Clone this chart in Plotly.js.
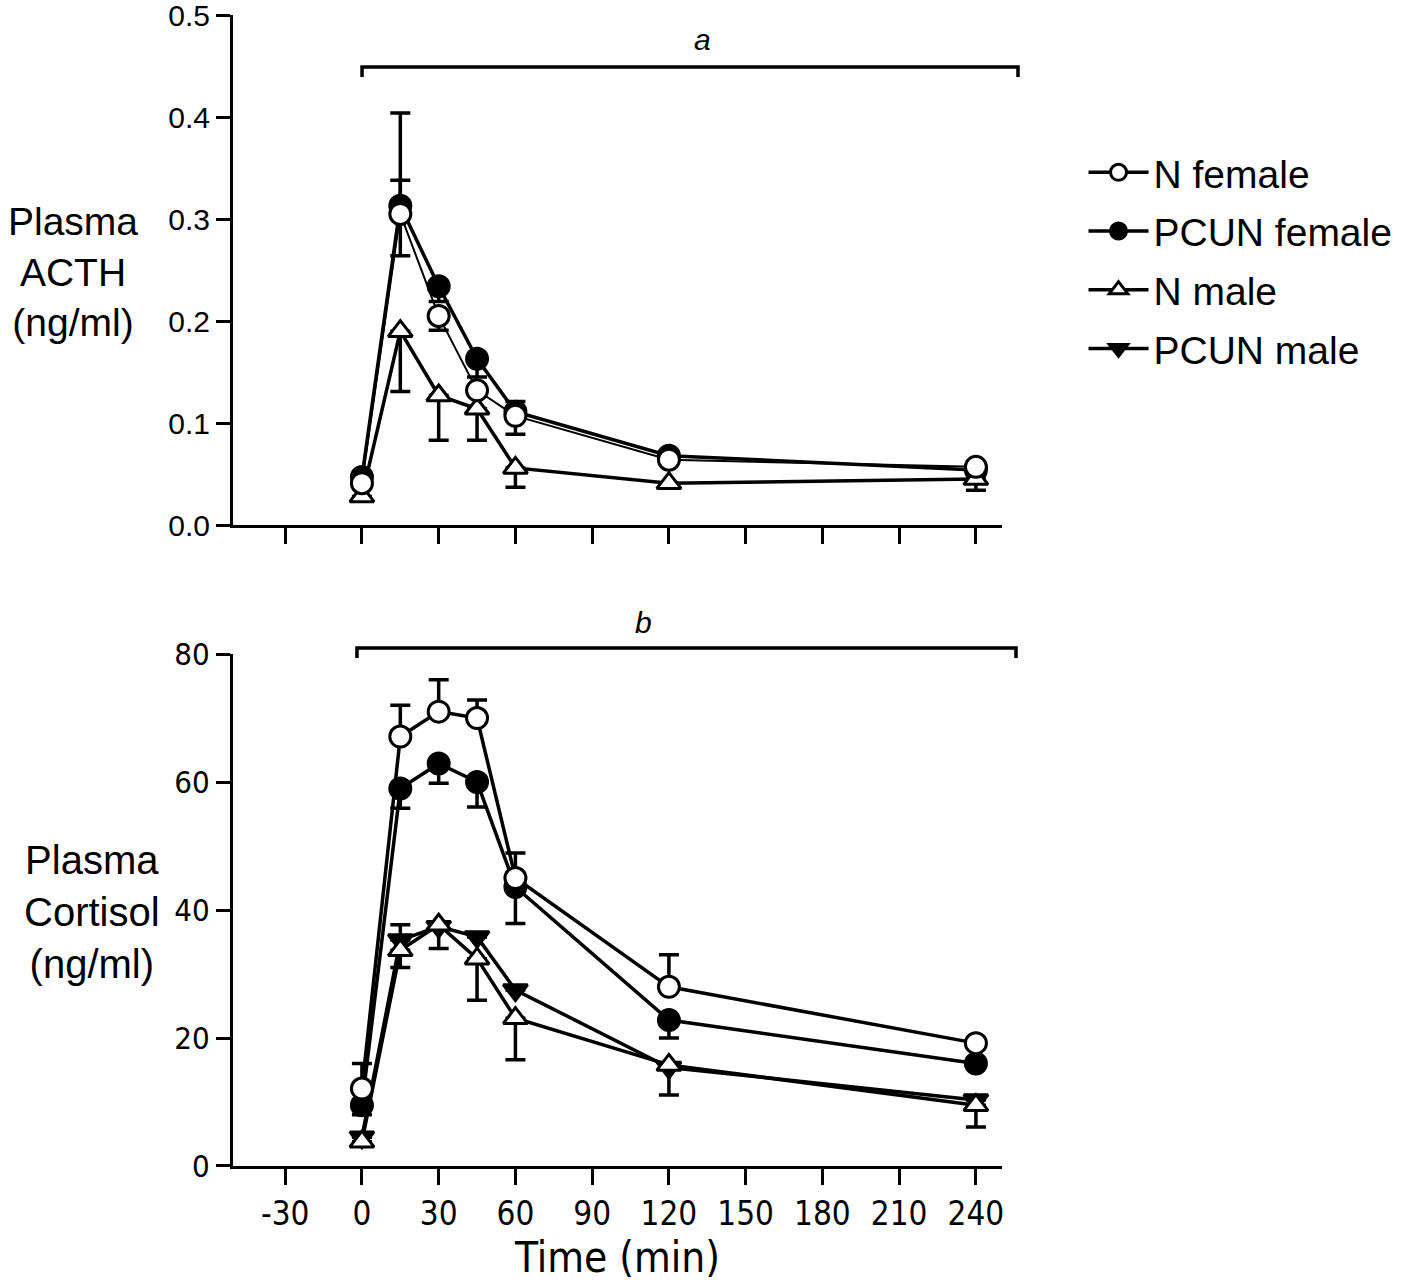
<!DOCTYPE html>
<html>
<head>
<meta charset="utf-8">
<script src="https://cdn.plot.ly/plotly-3.0.1.min.js"></script>
<style>
  body { margin: 0; background: #fff; }
  #graph { width: 1407px; height: 1287px; }
</style>
</head>
<body>
<div id="graph"></div>
<script>
// sampling times (min)
var time = [0, 15, 30, 45, 60, 120, 240];
var xTicks = [-30, 0, 30, 60, 90, 120, 150, 180, 210, 240];
var xTickText = ['-30', '0', '30', '60', '90', '120', '150', '180', '210', '240'];
var acthTicks = [0, 0.1, 0.2, 0.3, 0.4, 0.5];
var acthTickText = ['0.0', '0.1', '0.2', '0.3', '0.4', '0.5'];
var cortTicks = [0, 20, 40, 60, 80];

// Plasma ACTH (ng/ml), mean and one-sided SEM
var nFemaleActh      = [0.041, 0.305, 0.205, 0.132, 0.107, 0.064, 0.057];
var nFemaleActhUp    = [0, 0.033, 0, 0, 0.014, 0, 0];
var nFemaleActhDown  = [0, 0.041, 0.014, 0, 0.018, 0, 0];
var pcunFemaleActh     = [0.047, 0.313, 0.234, 0.163, 0.111, 0.068, 0.054];
var pcunFemaleActhUp   = [0, 0.091, 0, 0, 0, 0, 0];
var pcunFemaleActhDown = [0, 0, 0.015, 0.018, 0, 0, 0];
var nMaleActh      = [0.028, 0.190, 0.127, 0.114, 0.056, 0.041, 0.045];
var nMaleActhDown  = [0, 0.059, 0.044, 0.031, 0.019, 0, 0.011];

// Plasma cortisol (ng/ml)
var nFemaleCort     = [12.1, 67.1, 71.0, 70.0, 45.0, 28.0, 19.2];
var nFemaleCortUp   = [3.9, 4.9, 5.0, 2.8, 3.9, 5.0, 0];
var pcunFemaleCort     = [9.5, 59.0, 62.9, 60.0, 43.6, 22.8, 16.0];
var pcunFemaleCortDown = [1.5, 3.1, 3.1, 3.9, 5.7, 2.8, 0];
var nMaleCort      = [3.8, 33.7, 37.7, 32.4, 23.1, 15.8, 9.5];
var nMaleCortDown  = [0, 2.7, 0, 6.5, 6.5, 4.7, 3.4];
var pcunMaleCort     = [4.5, 35.3, 37.4, 35.8, 27.5, 15.4, 10.3];
var pcunMaleCortUp   = [0, 2.4, 0, 0, 0, 0, 0];
var pcunMaleCortDown = [0, 0, 3.4, 0, 0, 0, 0];

var zeros = time.map(function(){ return 0; });

function series(name, y, up, down, symbol, fill, xa, ya, showleg, rank, lw) {
  return {
    x: time, y: y, name: name,
    xaxis: xa, yaxis: ya,
    mode: 'lines+markers',
    showlegend: showleg,
    legendgroup: name,
    legendrank: rank,
    line: {color: 'black', width: lw || 3.5},
    marker: {symbol: symbol, size: 21, color: fill, line: {color: 'black', width: 3}},
    error_y: {type: 'data', symmetric: false, array: up, arrayminus: down,
              color: 'black', thickness: 3.5, width: 10}
  };
}

var data = [
  // top panel
  series('PCUN female', pcunFemaleActh, pcunFemaleActhUp, pcunFemaleActhDown, 'circle', 'black', 'x', 'y', false, 2),
  series('N male', nMaleActh, zeros, nMaleActhDown, 'triangle-up', 'white', 'x', 'y', false, 3),
  series('N female', nFemaleActh, nFemaleActhUp, nFemaleActhDown, 'circle', 'white', 'x', 'y', false, 1, 2),
  // bottom panel
  series('PCUN female', pcunFemaleCort, zeros, pcunFemaleCortDown, 'circle', 'black', 'x2', 'y2', true, 2),
  series('PCUN male', pcunMaleCort, pcunMaleCortUp, pcunMaleCortDown, 'triangle-down', 'black', 'x2', 'y2', true, 4),
  series('N male', nMaleCort, zeros, nMaleCortDown, 'triangle-up', 'white', 'x2', 'y2', true, 3),
  series('N female', nFemaleCort, nFemaleCortUp, zeros, 'circle', 'white', 'x2', 'y2', true, 1)
];

var sans = 'Liberation Sans, Arial, sans-serif';
var narrow = 'DejaVu Sans Condensed, Liberation Sans, sans-serif';

var xCommon = {
  range: [-50.4, 250.2], tickvals: xTicks, ticktext: xTickText, ticks: 'outside', ticklen: 16, tickwidth: 3,
  tickcolor: 'black', showline: true, linewidth: 3, linecolor: 'black',
  showgrid: false, zeroline: false
};
var yCommon = {
  ticks: 'outside', ticklen: 14, tickwidth: 3, tickcolor: 'black',
  showline: true, linewidth: 3, linecolor: 'black', ticklabeloverflow: 'allow',
  showgrid: false, zeroline: false
};

var layout = {
  width: 1407, height: 1287,
  margin: {l: 233, r: 405, t: 15, b: 121, autoexpand: false},
  paper_bgcolor: 'white', plot_bgcolor: 'white',
  font: {family: sans, color: 'black'},
  xaxis: Object.assign({}, xCommon, {anchor: 'y', showticklabels: false}),
  yaxis: Object.assign({}, yCommon, {domain: [0.5569, 1], range: [0, 0.5], tickvals: acthTicks, ticktext: acthTickText,
          tickfont: {family: sans, size: 30, color: 'black'}}),
  xaxis2: Object.assign({}, xCommon, {anchor: 'y2', tickfont: {family: narrow, size: 33, color: 'black'},
          title: {text: 'Time (min)', font: {family: narrow, size: 42, color: 'black'}, standoff: 10}}),
  yaxis2: Object.assign({}, yCommon, {domain: [0, 0.4448], range: [0, 80], tickvals: cortTicks,
          tickfont: {family: narrow, size: 31, color: 'black'}}),
  showlegend: true,
  legend: {
    x: 1.106, xanchor: 'left', y: 0.891, yanchor: 'top',
    font: {family: sans, size: 39, color: 'black'},
    tracegroupgap: 5, itemwidth: 60, bgcolor: 'rgba(0,0,0,0)'
  },
  annotations: [
    {xref: 'paper', yref: 'paper', x: -0.208, y: 0.777, xanchor: 'center', yanchor: 'middle', align: 'center',
     text: 'Plasma<br>ACTH<br>(ng/ml)', showarrow: false, font: {size: 39}},
    {xref: 'paper', yref: 'paper', x: -0.1834, y: 0.2207, xanchor: 'center', yanchor: 'middle', align: 'center',
     text: 'Plasma<br>Cortisol<br>(ng/ml)', showarrow: false, font: {size: 40}},
    {xref: 'paper', yref: 'paper', x: 0.6099, y: 0.9783, xanchor: 'center', yanchor: 'middle',
     text: '<i>a</i>', showarrow: false, font: {size: 30}},
    {xref: 'paper', yref: 'paper', x: 0.5332, y: 0.4726, xanchor: 'center', yanchor: 'middle',
     text: '<i>b</i>', showarrow: false, font: {size: 30}}
  ],
  shapes: [
    {type: 'path', xref: 'paper', yref: 'paper', path: 'M 0.1678 0.9461 L 0.1678 0.9548 L 1.0208 0.9548 L 1.0208 0.9461',
     line: {color: 'black', width: 3.5}},
    {type: 'path', xref: 'paper', yref: 'paper', path: 'M 0.1612 0.4413 L 0.1612 0.45 L 1.0182 0.45 L 1.0182 0.4413',
     line: {color: 'black', width: 3.5}}
  ]
};

Plotly.newPlot('graph', data, layout, {staticPlot: true});
</script>
</body>
</html>
